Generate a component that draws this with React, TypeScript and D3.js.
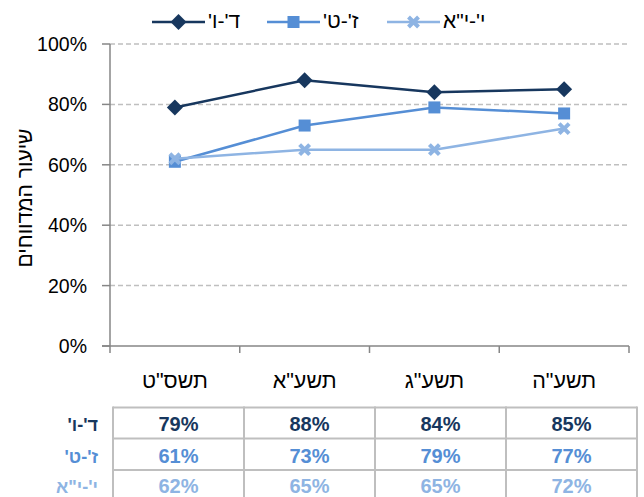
import React from "react";
import * as d3 from "d3";

const categories = ['תשס"ט', 'תשע"א', 'תשע"ג', 'תשע"ה'];
const seriesNames = ["ד'-ו'", "ז'-ט'", 'י\'-י"א'];
const series1 = [79, 88, 84, 85];
const series2 = [61, 73, 79, 77];
const series3 = [62, 65, 65, 72];
const yTicks = [0, 20, 40, 60, 80, 100];
const yTitle = "שיעור המדווחים";

const allSeries = [series1, series2, series3];
const colors = ["#17375E", "#558ED5", "#8EB4E3"];
const markers = ["diamond", "square", "x"];
const FONT = "'Liberation Sans', Arial, 'DejaVu Sans', sans-serif";

function Marker({ type, x, y, color }: { type: string; x: number; y: number; color: string }) {
  if (type === "diamond") {
    const r = 8;
    return <path d={`M${x},${y - r}L${x + r},${y}L${x},${y + r}L${x - r},${y}Z`} fill={color} />;
  }
  if (type === "square") {
    const s = 12;
    return <rect x={x - s / 2} y={y - s / 2} width={s} height={s} fill={color} />;
  }
  const r = 5;
  return (
    <g stroke={color} strokeWidth={4} strokeLinecap="butt">
      <line x1={x - r} y1={y - r} x2={x + r} y2={y + r} />
      <line x1={x - r} y1={y + r} x2={x + r} y2={y - r} />
    </g>
  );
}

export default function App() {
  const W = 644, H = 497;
  const x = d3.scaleBand<string>().domain(categories).range([110, 629]);
  const y = d3.scaleLinear().domain([0, 100]).range([346, 44]);
  const tx = d3.scaleBand<string>().domain(categories).range([113, 637]);
  const line = d3.line<number>()
    .x((_, i) => (x(categories[i]) as number) + x.bandwidth() / 2)
    .y((d) => y(d));

  const legendX = [152, 267, 387];
  const rowBase = [431, 463, 493];
  const rowLines = [407.5, 438.5, 470];
  const grid = "#BFBFBF";
  const axisC = "#868686";

  return (
    <svg width={W} height={H} style={{ position: "absolute", left: 0, top: 0 }} fontFamily={FONT}>
      <rect width={W} height={H} fill="#fff" />
      {/* gridlines */}
      {yTicks.filter((t) => t > 0).map((t) => (
        <line key={t} x1={110} x2={629} y1={y(t)} y2={y(t)} stroke={grid} strokeWidth={1.5} strokeDasharray="5,3" />
      ))}
      {/* y axis */}
      <line x1={110} x2={110} y1={44} y2={346} stroke={axisC} strokeWidth={1.5} />
      {yTicks.map((t) => (
        <g key={t}>
          <line x1={102} x2={110} y1={y(t)} y2={y(t)} stroke={axisC} strokeWidth={1.5} />
          <text x={87} y={y(t)} dy="0.36em" textAnchor="end" fontSize={19.5} fill="#000">{t}%</text>
        </g>
      ))}
      {/* x axis */}
      <line x1={102} x2={629} y1={346} y2={346} stroke={axisC} strokeWidth={1.5} />
      {[...categories.map((c) => x(c) as number), 629].map((v, i) => (
        <line key={i} x1={v} x2={v} y1={346} y2={353} stroke={axisC} strokeWidth={1.5} />
      ))}
      {categories.map((c) => (
        <text key={c} x={(x(c) as number) + x.bandwidth() / 2} y={388} textAnchor="middle" direction="rtl" fontSize={21.5} fill="#000">{c}</text>
      ))}
      {/* y title */}
      <text transform="translate(24,198) rotate(-90)" dy="0.36em" textAnchor="middle" direction="rtl" fontSize={21} fill="#000">{yTitle}</text>
      {/* series */}
      {allSeries.map((s, si) => (
        <g key={si}>
          <path d={line(s) as string} fill="none" stroke={colors[si]} strokeWidth={2.5} strokeLinejoin="round" />
          {s.map((v, i) => (
            <Marker key={i} type={markers[si]} x={(x(categories[i]) as number) + x.bandwidth() / 2} y={y(v)} color={colors[si]} />
          ))}
        </g>
      ))}
      {/* legend */}
      {seriesNames.map((n, i) => (
        <g key={n}>
          <line x1={legendX[i]} x2={legendX[i] + 53} y1={22} y2={22} stroke={colors[i]} strokeWidth={2.5} />
          <Marker type={markers[i]} x={legendX[i] + 26.5} y={22} color={colors[i]} />
          <text x={legendX[i] + 56} y={28} direction="rtl" textAnchor="end" fontSize={21} fill="#000">{n}</text>
        </g>
      ))}
      {/* data table */}
      {rowLines.map((ry, i) => (
        <line key={i} x1={113} x2={637} y1={ry} y2={ry} stroke={grid} strokeWidth={2} />
      ))}
      {[...categories.map((c) => tx(c) as number), 637].map((v, i) => (
        <line key={i} x1={v} x2={v} y1={406.5} y2={497} stroke={grid} strokeWidth={2} />
      ))}
      {allSeries.map((s, si) => (
        <g key={si}>
          <text x={98} y={rowBase[si] - 0.5} direction="rtl" textAnchor="start" fontSize={18} fontWeight="bold" fill={colors[si]}>{seriesNames[si]}</text>
          {s.map((v, i) => (
            <text key={i} x={(tx(categories[i]) as number) + tx.bandwidth() / 2} y={rowBase[si]} textAnchor="middle" fontSize={20} fontWeight="bold" fill={colors[si]}>{v}%</text>
          ))}
        </g>
      ))}
    </svg>
  );
}
